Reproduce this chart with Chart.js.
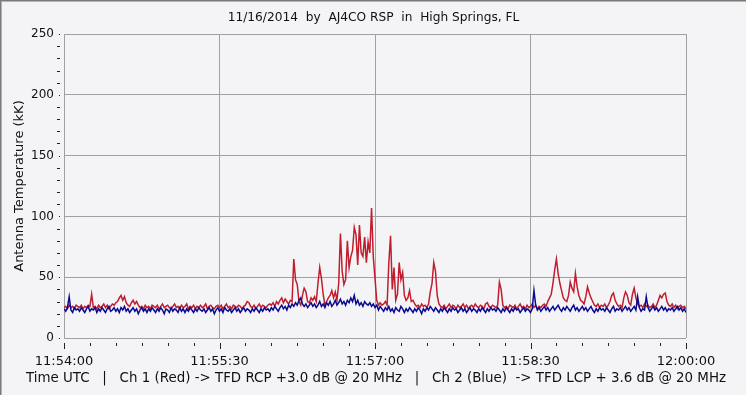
<!DOCTYPE html>
<html>
<head>
<meta charset="utf-8">
<script src="https://cdn.jsdelivr.net/npm/chart.js@4/dist/chart.umd.min.js"></script>
<style>
  html, body { margin: 0; padding: 0; background: #F4F4F6; }
  canvas { display: block; }
</style>
</head>
<body>
<canvas id="rsp" width="747" height="396"></canvas>
<script>
// --- data: antenna temperature (kK), one sample per second from 11:54:00 UTC ---
const START_SEC = 11 * 3600 + 54 * 60;
const SAMPLE_SEC = 1;

const ch1Red = [
  25,26,24,27,25,26,24,27,26,25, 27,24,26,25,27,26,36,25,26,24,
  27,25,26,28,25,27,24,26,28,27, 29,30,33,35,31,34,29,27,26,29,
  31,28,30,27,25,26,24,27,25,26, 24,27,26,25,27,24,26,28,25,26,
  27,25,24,26,28,25,26,24,27,25, 26,28,24,26,25,27,24,26,25,27,
  25,26,28,24,26,27,25,24,26,27, 25,27,24,26,28,25,26,24,27,26,
  25,27,26,24,26,27,30,29,26,25, 27,24,26,28,25,27,26,25,27,28,
  27,29,26,30,28,31,33,29,32,30, 28,31,30,65,48,44,30,27,35,41,
  38,30,29,33,31,34,30,45,58,49, 36,27,30,33,35,39,33,38,31,45,
  86,55,44,48,80,58,67,72,91,85, 60,93,70,67,83,62,79,70,107,67,
  49,31,27,29,27,28,30,27,62,84, 40,58,31,36,62,48,54,35,31,33,
  39,30,31,28,26,27,25,28,26,27, 25,28,38,45,62,55,35,28,26,25,
  27,24,26,28,25,27,26,24,27,25, 26,28,25,27,24,26,27,25,28,26,
  25,27,26,24,28,29,26,25,27,26, 25,27,46,40,27,25,26,24,27,26,
  25,27,24,26,28,25,26,24,27,25, 26,28,25,27,24,26,25,27,28,26,
  30,33,36,45,56,65,53,45,39,33, 31,30,35,46,41,38,53,42,35,31,
  30,28,34,42,37,33,30,27,26,28, 25,27,26,28,25,27,30,35,37,31,
  28,26,27,25,33,38,35,29,27,36, 41,33,28,26,27,25,28,26,27,25,
  26,28,25,27,31,35,33,36,37,30, 27,26,28,25,27,24,26,27,25,26,24
];

const ch2Blue = [
  24,22,25,34,23,21,25,23,24,22, 25,23,21,24,26,22,24,23,25,21,
  24,22,25,23,21,24,26,22,23,25, 22,24,21,25,23,26,22,24,21,23,
  25,22,24,20,23,25,22,24,21,24, 22,25,23,21,24,22,25,23,20,24,
  23,21,25,22,24,23,21,25,22,24, 21,24,22,25,23,21,24,22,25,23,
  22,24,21,23,25,22,24,20,23,25, 22,24,21,25,23,22,24,21,23,25,
  22,24,21,23,25,22,24,23,21,24, 22,25,23,21,24,22,25,23,24,22,
  25,23,26,24,22,25,27,24,26,23, 27,25,28,26,29,27,31,33,28,26,
  28,25,27,29,26,28,25,27,30,26, 28,25,29,27,30,26,28,31,27,29,
  32,28,30,27,31,29,33,30,35,28, 31,27,29,26,30,28,27,29,26,28,
  25,27,23,26,24,22,25,23,26,22, 24,21,25,23,22,26,24,21,24,22,
  25,23,21,24,22,25,23,20,24,22, 25,23,26,24,22,25,23,21,24,22,
  25,23,21,24,22,25,23,24,21,23, 25,22,24,21,23,25,22,24,23,21,
  24,22,25,23,21,24,22,25,23,24, 22,25,23,21,24,22,25,23,21,24,
  22,25,23,24,21,23,25,22,24,23, 21,24,39,27,23,25,22,24,26,23,
  25,22,24,26,23,25,27,24,22,25, 23,26,24,22,25,27,23,25,22,24,
  26,23,25,22,24,26,23,21,24,22, 25,23,24,22,25,23,21,24,26,22,
  24,23,25,22,24,26,23,25,22,24, 26,23,34,25,22,24,23,34,25,22,
  24,26,23,25,22,24,26,23,25,22, 24,23,25,22,24,26,23,25,22,24,21
];

const X_MAX = 360, X_MINOR = 15, X_MAJOR = 90;
const Y_MAX = 250, Y_MINOR = 10, Y_MAJOR = 50;

const titleText = '11/16/2014  by  AJ4CO RSP  in  High Springs, FL';
const xTitle = 'Time UTC   |   Ch 1 (Red) -> TFD RCP +3.0 dB @ 20 MHz   |   Ch 2 (Blue)  -> TFD LCP + 3.6 dB @ 20 MHz';
const yTitle = 'Antenna Temperature (kK)';

const GRID = '#A0A0A0';
const INK = '#111111';
const FONT = 'DejaVu Sans';

function fmtTime(v) {
  const s = START_SEC + v;
  const hh = Math.floor(s / 3600), mm = Math.floor(s / 60) % 60, ss = s % 60;
  return String(hh).padStart(2, '0') + ':' + String(mm).padStart(2, '0') + ':' + String(ss).padStart(2, '0');
}

const toPoints = arr => arr.map((v, i) => ({ x: i * SAMPLE_SEC, y: v }));

// background + sunken frame
const frame = {
  id: 'frame',
  beforeDraw(chart) {
    const c = chart.ctx, w = chart.width, h = chart.height;
    c.save();
    c.fillStyle = '#F4F4F6';
    c.fillRect(0, 0, w, h);
    c.fillStyle = '#7A7A7A';
    c.fillRect(0, 0, w, 1);
    c.fillRect(0, 0, 1, h);
    c.fillStyle = '#B4B4B4';
    c.fillRect(1, 1, w - 2, 1);
    c.fillRect(1, 1, 1, h - 2);
    c.fillStyle = '#FFFFFF';
    c.fillRect(0, h - 1, w, 1);
    c.fillRect(w - 1, 0, 1, h);
    c.restore();
  }
};

// tick marks sit a few pixels away from the plot, like the original;
// the long x caption is wider than the plot so it is written here (the scale title would squeeze it)
const tickMarks = {
  id: 'tickMarks',
  afterDraw(chart) {
    const c = chart.ctx, xs = chart.scales.x, ys = chart.scales.y;
    const a = chart.chartArea;
    c.save();
    c.fillStyle = '#222';
    for (let v = 0; v <= X_MAX; v += X_MINOR) {
      const px = Math.round(xs.getPixelForValue(v));
      const len = v % X_MAJOR === 0 ? 6 : 3;
      c.fillRect(px, Math.round(a.bottom) + 5, 1, len);
    }
    for (let v = 0; v <= Y_MAX; v += Y_MINOR) {
      const py = Math.round(ys.getPixelForValue(v));
      if (v % Y_MAJOR === 0) c.fillRect(Math.round(a.left) - 5, py, 1, 1);
      else c.fillRect(Math.round(a.left) - 7, py, 3, 1);
    }
    c.fillStyle = INK;
    c.font = '13.4px "' + FONT + '"';
    c.textAlign = 'center';
    c.textBaseline = 'middle';
    c.fillText(xTitle, (a.left + a.right) / 2 + 1, xs.bottom - 17);
    c.restore();
  }
};

new Chart(document.getElementById('rsp'), {
  type: 'line',
  data: {
    datasets: [
      { label: 'Ch 1', data: toPoints(ch1Red), borderColor: '#C01E2E', borderWidth: 1.5, pointRadius: 0, order: 2 },
      { label: 'Ch 2', data: toPoints(ch2Blue), borderColor: '#0A0A8E', borderWidth: 1.5, pointRadius: 0, order: 1 }
    ]
  },
  options: {
    responsive: false,
    animation: false,
    devicePixelRatio: 1,
    layout: { padding: 0 },
    plugins: {
      legend: { display: false },
      tooltip: { enabled: false },
      title: {
        display: true, text: titleText, color: INK,
        font: { family: FONT, size: 12.2, weight: 'normal' },
        padding: { top: 10.7, bottom: 8.7 }
      }
    },
    scales: {
      x: {
        type: 'linear', min: 0, max: X_MAX,
        afterFit(s) { s.height = 58; },
        border: { display: false },
        grid: {
          drawTicks: false,
          color: ctx => (ctx.tick && ctx.tick.value % X_MAJOR === 0) ? GRID : 'rgba(0,0,0,0)'
        },
        ticks: {
          stepSize: X_MINOR, autoSkip: false, maxRotation: 0, padding: 16,
          color: INK, font: { family: FONT, size: 13 },
          callback: v => v % X_MAJOR === 0 ? fmtTime(v) : ''
        }
      },
      y: {
        min: 0, max: Y_MAX,
        afterFit(s) { s.width = 64; },
        border: { display: false },
        grid: {
          drawTicks: false,
          color: ctx => (ctx.tick && ctx.tick.value % Y_MAJOR === 0) ? GRID : 'rgba(0,0,0,0)'
        },
        ticks: {
          stepSize: Y_MINOR, autoSkip: false, padding: 10,
          color: INK, font: { family: FONT, size: 12 },
          callback: v => v % Y_MAJOR === 0 ? v : ''
        },
        title: {
          display: true, text: yTitle, color: INK,
          font: { family: FONT, size: 13 },
          padding: { top: 12.2, bottom: 0 }
        }
      },
      // empty right-hand strip so the plot ends at the same spot as the original
      yRight: {
        position: 'right', min: 0, max: Y_MAX,
        afterFit(s) { s.width = 61; },
        border: { display: false },
        grid: { display: false, drawTicks: false },
        ticks: { display: false }
      }
    }
  },
  plugins: [frame, tickMarks]
});
</script>
</body>
</html>
